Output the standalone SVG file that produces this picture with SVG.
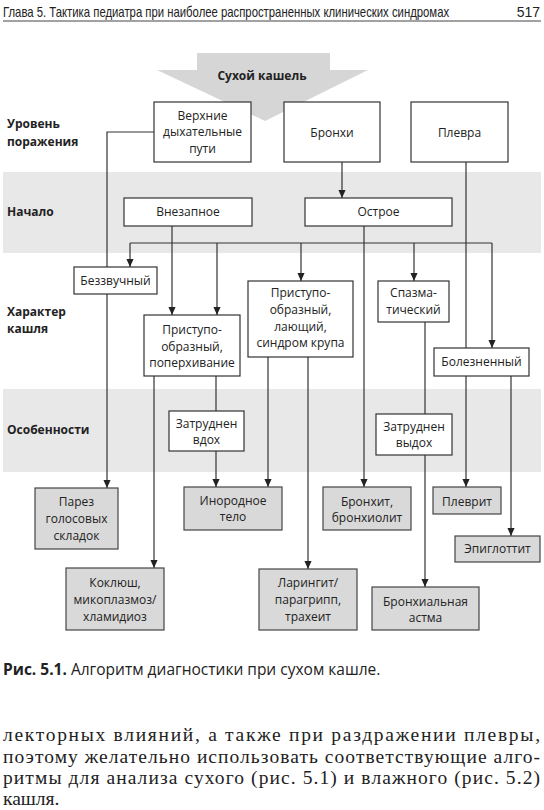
<svg xmlns="http://www.w3.org/2000/svg" width="544" height="810" viewBox="0 0 544 810">
<defs>
<style>
.t{font-family:"Open Sans","Noto Sans","DejaVu Sans",sans-serif;font-size:12px;fill:#222;text-anchor:middle}
.lb{font-family:"Open Sans","Noto Sans","DejaVu Sans",sans-serif;font-size:12px;font-weight:bold;fill:#222}
.w{fill:#fff;stroke:#333;stroke-width:1.2}
.g{fill:#d9d9d9;stroke:#444;stroke-width:1.2}
.c{fill:none;stroke:#333;stroke-width:1.2}
.band{fill:#e8e8e8}
</style>
<marker id="a" markerUnits="userSpaceOnUse" markerWidth="8" markerHeight="9" refX="9" refY="4" orient="auto" viewBox="0 0 9 8">
<path d="M0,0 L9,4 L0,8 Z" fill="#222"/>
</marker>
</defs>
<rect width="544" height="810" fill="#fff"/>
<g id="header">
<text transform="translate(3 17) scale(0.81 1)" x="0" y="0" font-family="'Liberation Sans',Arial,sans-serif" font-size="14" fill="#222">Глава 5. Тактика педиатра при наиболее распространенных клинических синдромах</text>
<text x="540" y="17" font-family="'Liberation Sans',Arial,sans-serif" font-size="14" fill="#222" text-anchor="end">517</text>
<line x1="3" y1="21" x2="541" y2="21" stroke="#444" stroke-width="1"/>
</g>
<g id="bands">
<rect class="band" x="3" y="172" width="538" height="81"/>
<rect class="band" x="3" y="389" width="538" height="83"/>
</g>
<g id="start">
<path d="M197,53 H330 V70 H368 L265,121 L157,70 H197 Z" fill="#d6d6d6"/>
<text x="262" y="80" class="lb" text-anchor="middle">Сухой кашель</text>
</g>
<g id="labels">
<text class="lb" x="7" y="128">Уровень</text>
<text class="lb" x="7" y="146">поражения</text>
<text class="lb" x="7" y="216">Начало</text>
<text class="lb" x="7" y="316">Характер</text>
<text class="lb" x="7" y="333">кашля</text>
<text class="lb" x="7" y="434">Особенности</text>
</g>
<g id="connectors">
<path class="c" d="M154,132 H107 V488" marker-end="url(#a)"/>
<path class="c" d="M130,243 H492"/>
<path class="c" d="M130,243 V267" marker-end="url(#a)"/>
<path class="c" d="M492,243 V348" marker-end="url(#a)"/>
<path class="c" d="M217,243 V315" marker-end="url(#a)"/>
<path class="c" d="M301,243 V281" marker-end="url(#a)"/>
<path class="c" d="M414,243 V281" marker-end="url(#a)"/>
<path class="c" d="M172,226 V315" marker-end="url(#a)"/>
<path class="c" d="M364,226 V487" marker-end="url(#a)"/>
<path class="c" d="M342,162 V198" marker-end="url(#a)"/>
<path class="c" d="M466,162 V487" marker-end="url(#a)"/>
<path class="c" d="M511,376 V536" marker-end="url(#a)"/>
<path class="c" d="M154,376 V568" marker-end="url(#a)"/>
<path class="c" d="M216,376 V411"/>
<path class="c" d="M216,451 V487" marker-end="url(#a)"/>
<path class="c" d="M268,357 V487" marker-end="url(#a)"/>
<path class="c" d="M308,357 V569" marker-end="url(#a)"/>
<path class="c" d="M425,322 V414"/>
<path class="c" d="M425,455 V587" marker-end="url(#a)"/>
</g>
<g id="n-upper"><rect class="w" x="154" y="102" width="97" height="60"/><text class="t" x="202.5" y="120">Верхние</text><text class="t" x="202.5" y="136">дыхательные</text><text class="t" x="202.5" y="153">пути</text></g>
<g id="n-bronchi"><rect class="w" x="284" y="102" width="96" height="60"/><text class="t" x="332" y="137">Бронхи</text></g>
<g id="n-pleura"><rect class="w" x="411" y="102" width="97" height="60"/><text class="t" x="459.5" y="137">Плевра</text></g>
<g id="n-sudden"><rect class="w" x="124" y="198" width="128" height="28"/><text class="t" x="188" y="216">Внезапное</text></g>
<g id="n-acute"><rect class="w" x="305" y="198" width="147" height="28"/><text class="t" x="378.5" y="216">Острое</text></g>
<g id="n-silent"><rect class="w" x="74" y="267" width="83" height="27"/><text class="t" x="115.5" y="285">Беззвучный</text></g>
<g id="n-choke"><rect class="w" x="144" y="315" width="96" height="61"/><text class="t" x="192" y="334">Приступо-</text><text class="t" x="192" y="351">образный,</text><text class="t" x="192" y="367">поперхивание</text></g>
<g id="n-bark"><rect class="w" x="248" y="281" width="105" height="76"/><text class="t" x="300.5" y="297">Приступо-</text><text class="t" x="300.5" y="314">образный,</text><text class="t" x="300.5" y="331">лающий,</text><text class="t" x="300.5" y="347">синдром крупа</text></g>
<g id="n-spasm"><rect class="w" x="378" y="281" width="71" height="41"/><text class="t" x="413.5" y="297">Спазма-</text><text class="t" x="413.5" y="314">тический</text></g>
<g id="n-painful"><rect class="w" x="434" y="348" width="95" height="28"/><text class="t" x="481.5" y="366">Болезненный</text></g>
<g id="n-inhale"><rect class="w" x="169" y="411" width="75" height="40"/><text class="t" x="206.5" y="428">Затруднен</text><text class="t" x="206.5" y="444">вдох</text></g>
<g id="n-exhale"><rect class="w" x="376" y="414" width="76" height="41"/><text class="t" x="414" y="431">Затруднен</text><text class="t" x="414" y="447">выдох</text></g>
<g id="n-paresis"><rect class="g" x="35" y="488" width="83" height="61"/><text class="t" x="76.5" y="506">Парез</text><text class="t" x="76.5" y="523">голосовых</text><text class="t" x="76.5" y="540">складок</text></g>
<g id="n-foreign"><rect class="g" x="184" y="487" width="98" height="43"/><text class="t" x="233" y="505">Инородное</text><text class="t" x="233" y="521">тело</text></g>
<g id="n-bronchitis"><rect class="g" x="323" y="487" width="88" height="43"/><text class="t" x="367" y="506">Бронхит,</text><text class="t" x="367" y="522">бронхиолит</text></g>
<g id="n-pleurisy"><rect class="g" x="433" y="487" width="68" height="27"/><text class="t" x="467" y="506">Плеврит</text></g>
<g id="n-epiglottitis"><rect class="g" x="455" y="536" width="85" height="26"/><text class="t" x="497.5" y="553">Эпиглоттит</text></g>
<g id="n-pertussis"><rect class="g" x="66" y="568" width="98" height="62"/><text class="t" x="115" y="587">Коклюш,</text><text class="t" x="115" y="604">микоплазмоз/</text><text class="t" x="115" y="621">хламидиоз</text></g>
<g id="n-laryngitis"><rect class="g" x="259" y="569" width="98" height="61"/><text class="t" x="308" y="587">Ларингит/</text><text class="t" x="308" y="604">парагрипп,</text><text class="t" x="308" y="621">трахеит</text></g>
<g id="n-asthma"><rect class="g" x="372" y="587" width="107" height="43"/><text class="t" x="425.5" y="606">Бронхиальная</text><text class="t" x="425.5" y="622">астма</text></g>
<g id="caption">
<text x="3" y="675" font-family="'Open Sans','Noto Sans',sans-serif" font-size="15.5" fill="#222"><tspan font-weight="bold">Рис. 5.1.</tspan> Алгоритм диагностики при сухом кашле.</text>
</g>
<g id="body" font-family="'Liberation Serif','Times New Roman',serif" font-size="19.5" fill="#222">
<text x="3" y="741" textLength="537" lengthAdjust="spacing">лекторных влияний, а также при раздражении плевры,</text>
<text x="3" y="763" textLength="537" lengthAdjust="spacing">поэтому желательно использовать соответствующие алго-</text>
<text x="3" y="784" textLength="537" lengthAdjust="spacing">ритмы для анализа сухого (рис. 5.1) и влажного (рис. 5.2)</text>
<text x="3" y="805">кашля.</text>
</g>
</svg>
